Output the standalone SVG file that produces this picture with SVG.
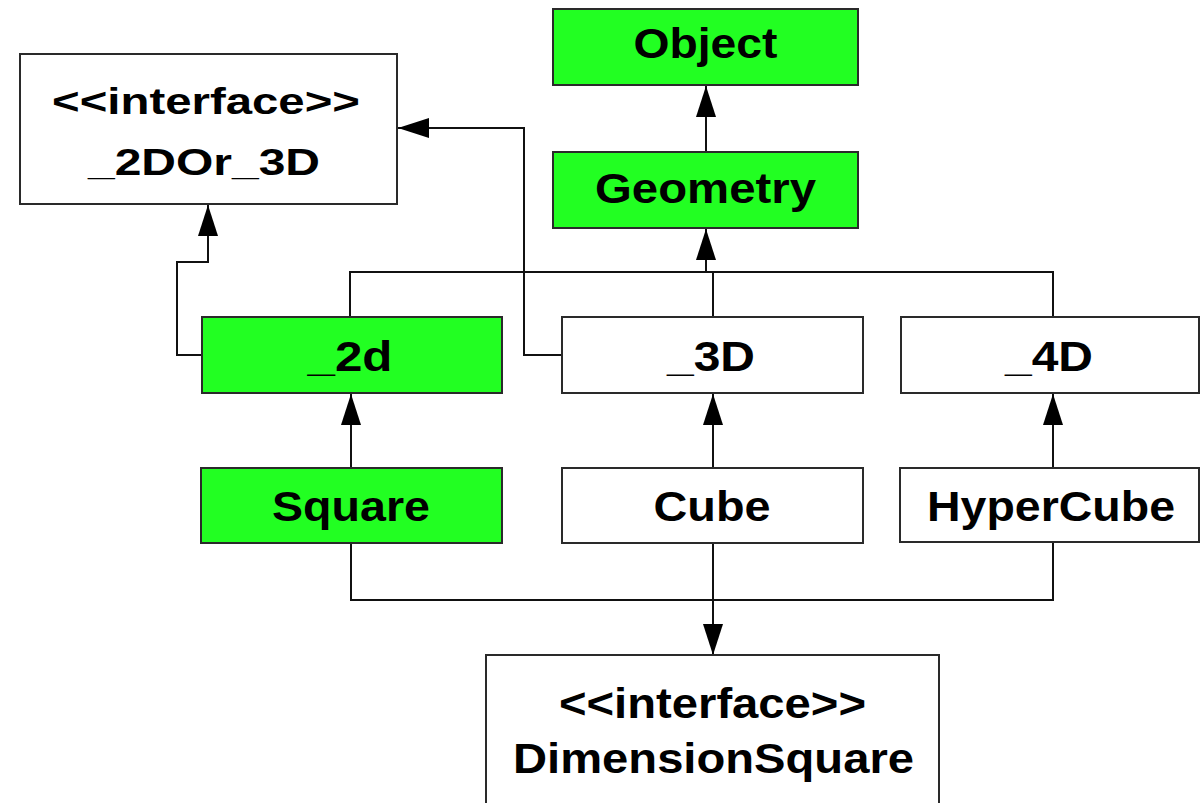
<svg xmlns="http://www.w3.org/2000/svg" width="1201" height="803" viewBox="0 0 1201 803">
<style>
.box{stroke:#2a2a2a;stroke-width:2}
.g{fill:#22ff22}
.w{fill:#ffffff}
.t{font-family:"Liberation Sans",Arial,sans-serif;font-weight:bold;font-size:42px;fill:#000;text-anchor:middle}
.conn{fill:none;stroke:#111;stroke-width:2}
</style>
<defs>
<marker id="arr" viewBox="0 0 31 20" refX="31" refY="10" markerWidth="31" markerHeight="20" markerUnits="userSpaceOnUse" orient="auto">
<path d="M0,0 L31,10 L0,20 Z" fill="#000"/>
</marker>
</defs>
<rect x="0" y="0" width="1201" height="803" fill="#fff"/>
<g id="connectors">
<path class="conn" d="M706,152 L706,86" marker-end="url(#arr)"/>
<path class="conn" d="M706,272 L706,229" marker-end="url(#arr)"/>
<path class="conn" d="M350,317 L350,272 L1053,272 L1053,317"/>
<path class="conn" d="M713,272 L713,317"/>
<path class="conn" d="M202,355 L177,355 L177,262 L208,262 L208,205" marker-end="url(#arr)"/>
<path class="conn" d="M562,355 L524,355 L524,128 L398,128" marker-end="url(#arr)"/>
<path class="conn" d="M351,468 L351,394" marker-end="url(#arr)"/>
<path class="conn" d="M713,468 L713,394" marker-end="url(#arr)"/>
<path class="conn" d="M1053,469 L1053,394" marker-end="url(#arr)"/>
<path class="conn" d="M351,543 L351,600 L1053,600 L1053,542"/>
<path class="conn" d="M713,543 L713,655" marker-end="url(#arr)"/>
</g>
<g id="Object">
<rect class="box g" x="553" y="9" width="305" height="76"/>
<text class="t" x="705.5" y="58" textLength="144" lengthAdjust="spacingAndGlyphs">Object</text>
</g>
<g id="Geometry">
<rect class="box g" x="553" y="152" width="305" height="76"/>
<text class="t" x="705.5" y="203" textLength="221" lengthAdjust="spacingAndGlyphs">Geometry</text>
</g>
<g id="I2DOr3D">
<rect class="box w" x="20" y="54" width="377" height="150"/>
<text class="t" x="206" y="114" style="font-size:37px" textLength="308" lengthAdjust="spacingAndGlyphs">&lt;&lt;interface&gt;&gt;</text>
<text class="t" x="204" y="175" style="font-size:37px" textLength="232" lengthAdjust="spacingAndGlyphs">_2DOr_3D</text>
</g>
<g id="N2d">
<rect class="box g" x="202" y="317" width="300" height="76"/>
<text class="t" x="350" y="371" textLength="85" lengthAdjust="spacingAndGlyphs">_2d</text>
</g>
<g id="N3D">
<rect class="box w" x="562" y="317" width="301" height="76"/>
<text class="t" x="711" y="371" textLength="88" lengthAdjust="spacingAndGlyphs">_3D</text>
</g>
<g id="N4D">
<rect class="box w" x="901" y="317" width="298" height="76"/>
<text class="t" x="1049" y="371" textLength="88" lengthAdjust="spacingAndGlyphs">_4D</text>
</g>
<g id="Square">
<rect class="box g" x="201" y="468" width="301" height="75"/>
<text class="t" x="351" y="521" textLength="158" lengthAdjust="spacingAndGlyphs">Square</text>
</g>
<g id="Cube">
<rect class="box w" x="562" y="468" width="301" height="75"/>
<text class="t" x="712" y="521" textLength="117" lengthAdjust="spacingAndGlyphs">Cube</text>
</g>
<g id="HyperCube">
<rect class="box w" x="900" y="468" width="299" height="74"/>
<text class="t" x="1051" y="521" textLength="248" lengthAdjust="spacingAndGlyphs">HyperCube</text>
</g>
<g id="DimensionSquare">
<rect class="box w" x="486" y="655" width="453" height="170"/>
<text class="t" x="712.5" y="718" style="font-size:43px" textLength="307" lengthAdjust="spacingAndGlyphs">&lt;&lt;interface&gt;&gt;</text>
<text class="t" x="713.5" y="773" style="font-size:43px" textLength="401" lengthAdjust="spacingAndGlyphs">DimensionSquare</text>
</g>
</svg>
